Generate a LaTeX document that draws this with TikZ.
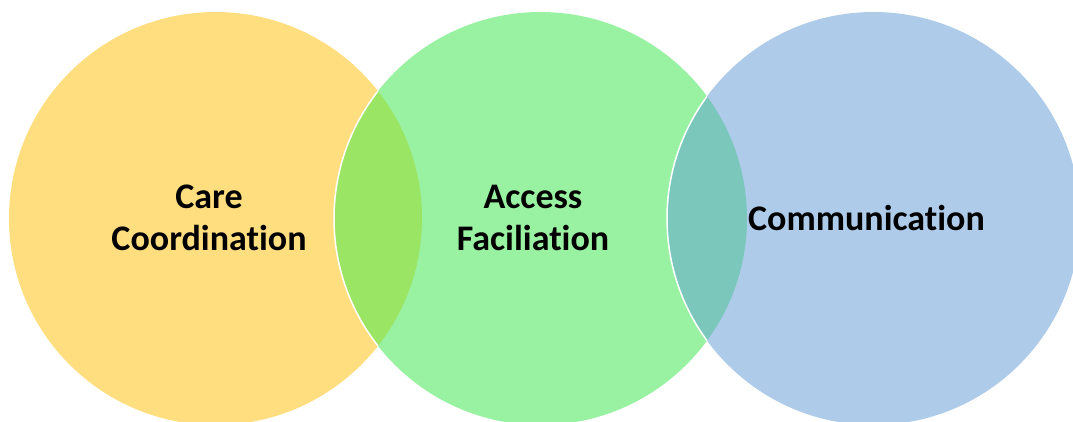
\documentclass[tikz,border=0pt]{standalone}
\usepackage{fontspec}
\setmainfont{Carlito}[Ligatures=NoCommon]
\usetikzlibrary{positioning}

\definecolor{careyellow}{HTML}{FFDE80}
\definecolor{accessgreen}{HTML}{99F2A1}
\definecolor{commblue}{HTML}{AECCEA}
\definecolor{lensleft}{HTML}{9BE564}
\definecolor{lensright}{HTML}{7BC7BC}

\begin{document}
\begin{tikzpicture}[x=1pt,y=-1pt,
  circlabel/.style={font=\bfseries\fontsize{36}{42}\selectfont, align=center, text=black}]

\clip (0,0) rectangle (1073,421);

\fill[careyellow] (215.5,218.5) circle (206.5pt);
\fill[accessgreen] (540.5,218.5) circle (206.5pt);
\fill[commblue] (873.5,218.5) circle (206.5pt);
%
\begin{scope}
\clip (215.5,218.5) circle (206.5pt);
\fill[lensleft] (540.5,218.5) circle (206.5pt);
\draw[white,line width=1.5pt] (540.5,218.5) circle (206.5pt);
\end{scope}
\begin{scope}
\clip (540.5,218.5) circle (206.5pt);
\fill[lensright] (873.5,218.5) circle (206.5pt);
\draw[white,line width=1.5pt] (873.5,218.5) circle (206.5pt);
\end{scope}

\node [circlabel] (care) at (209,218) {Care\\Coordination};
\node [circlabel] (access) at (533,218) {Access\\Faciliation};
\node [circlabel] (comm) at (866.5,218) {Communication};

\end{tikzpicture}
\end{document}
